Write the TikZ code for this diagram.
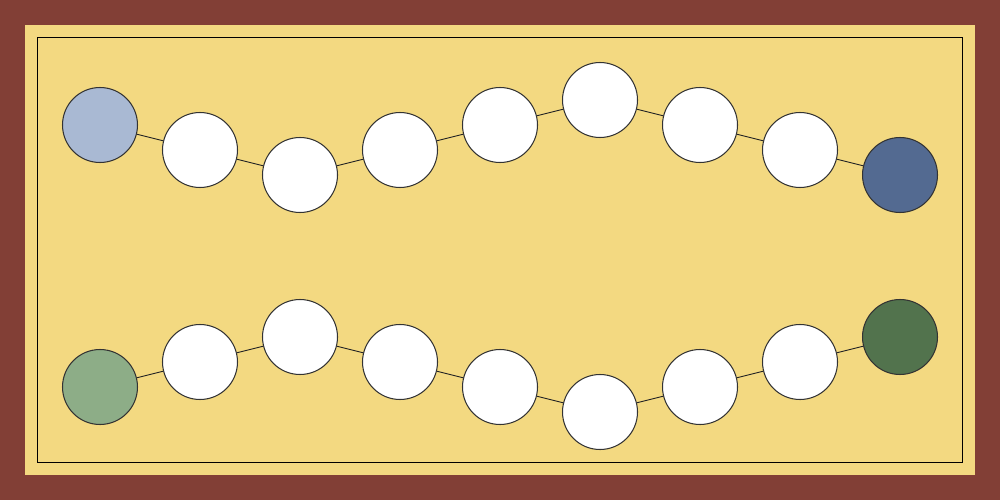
\documentclass[tikz,border=0pt]{standalone}
\definecolor{brd}{HTML}{823F36}
\definecolor{bg}{HTML}{F3D981}
\definecolor{lblue}{HTML}{A9B9D3}
\definecolor{dblue}{HTML}{536A91}
\definecolor{lgreen}{HTML}{8DAD87}
\definecolor{dgreen}{HTML}{52734D}
\begin{document}
\begin{tikzpicture}[x=0.02cm,y=-0.02cm,
  ball/.style={circle,draw=black!80,line width=0.6pt,fill=white,minimum size=1.5cm,inner sep=0pt},
  link/.style={draw=black!85,line width=0.5pt}]
\fill[brd] (0,0) rectangle (1000,500);
\fill[bg] (25,25) rectangle (975,475);
\draw[line width=0.6pt] (37.5,37.5) rectangle (962.5,462.5);
\useasboundingbox (0,0) rectangle (1000,500);
% top row
\foreach \i/\x/\y/\c in {1/100/125/lblue,2/200/150/white,3/300/175/white,4/400/150/white,5/500/125/white,6/600/100/white,7/700/125/white,8/800/150/white,9/900/175/dblue}
  \node[ball,fill=\c] (t\i) at (\x,\y) {};
% bottom row
\foreach \i/\x/\y/\c in {1/100/387/lgreen,2/200/362/white,3/300/337/white,4/400/362/white,5/500/387/white,6/600/412/white,7/700/387/white,8/800/362/white,9/900/337/dgreen}
  \node[ball,fill=\c] (b\i) at (\x,\y) {};
\foreach \a/\b in {1/2,2/3,3/4,4/5,5/6,6/7,7/8,8/9} {
  \draw[link] (t\a) -- (t\b);
  \draw[link] (b\a) -- (b\b);
}
\end{tikzpicture}
\end{document}
